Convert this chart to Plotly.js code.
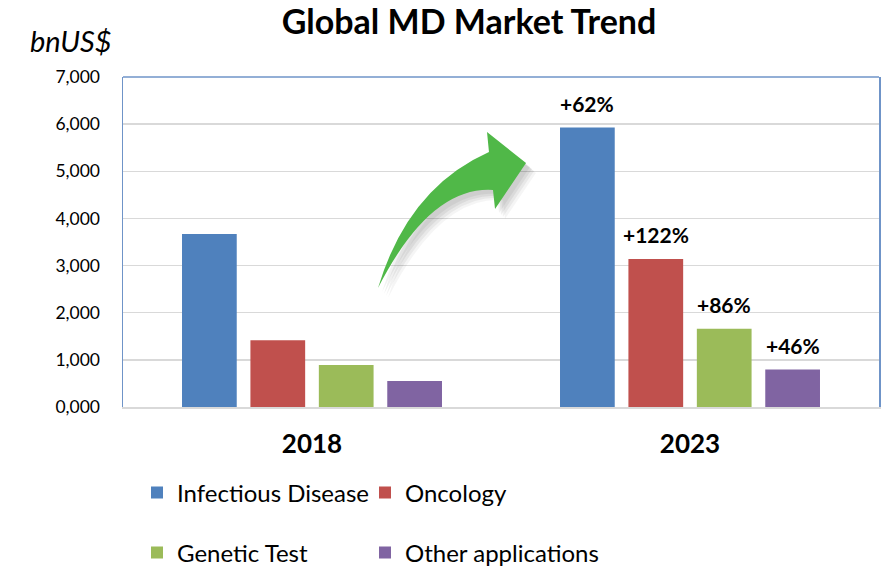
<!DOCTYPE html>
<html>
<head>
<meta charset="utf-8">
<script src="https://cdn.plot.ly/plotly-3.0.1.min.js"></script>
<style>html,body{margin:0;padding:0;background:#fff;}#chart{width:884px;height:573px;}</style>
</head>
<body>
<div id="chart"></div>
<script>
// ---- data ----
const years = ["2018", "2023"];
const seriesNames = ["Infectious Disease", "Oncology", "Genetic Test", "Other applications"];
const infectious = [3670, 5930];
const oncology = [1415, 3140];
const genetic = [890, 1660];
const other = [550, 795];
const growthLabels = ["+62%", "+122%", "+86%", "+46%"];
const yTickVals = [0, 1000, 2000, 3000, 4000, 5000, 6000, 7000];
const yTickText = ["0,000", "1,000", "2,000", "3,000", "4,000", "5,000", "6,000", "7,000"];

const colors = ["#4F81BD", "#C0504D", "#9BBB59", "#8064A2"];
const allSeries = [infectious, oncology, genetic, other];
const FONT = "Lato, 'Liberation Sans', Arial, sans-serif";

const BARGAP = 0.276, BARGROUPGAP = 0.2;
const legendIds = ["legend", "legend2", "legend3", "legend4"];

const traces = allSeries.map((vals, i) => ({
  type: "bar",
  name: seriesNames[i],
  x: years,
  y: vals,
  marker: { color: colors[i], line: { width: 0 } },
  legend: legendIds[i],
  hoverinfo: "x+y+name"
}));

// growth annotations above the 2023 bars (positioned via axis scales)
const step = (1 - BARGAP) / allSeries.length;
const annotations = allSeries.map((vals, i) => ({
  xref: "x", yref: "y",
  x: 1 + (i - (allSeries.length - 1) / 2) * step,
  y: vals[1],
  yshift: 24,
  yanchor: "middle",
  text: growthLabels[i],
  showarrow: false,
  font: { family: FONT, size: 21, color: "#000", weight: 700 }
}));

annotations.push({
  xref: "paper", yref: "paper",
  x: (71 - 123) / 756, y: (407 - 40) / 330,
  xanchor: "center", yanchor: "middle",
  text: "<i>bnUS$</i>", showarrow: false,
  font: { family: FONT, size: 29, color: "#000" }
});

// decorative curved arrow (pixel-based geometry converted to paper coords)
const L = 123, B = 407, W = 756, H = 330;
function P(x, y) { return ((x - L) / W).toFixed(4) + "," + ((B - y) / H).toFixed(4); }
function arrowPath(dx, dy) {
  const p = (x, y) => P(x + dx, y + dy);
  return "M" + p(378, 288) +
    " Q" + p(408, 188) + " " + p(489, 152) +
    " L" + p(487, 132) +
    " L" + p(526, 163) +
    " L" + p(495, 209) +
    " L" + p(493, 190) +
    " Q" + p(430, 186) + " " + p(378, 288) + " Z";
}
const shapes = [];
[[10, 10, 0.04], [8, 8, 0.05], [6, 6, 0.06], [4, 4, 0.05]].forEach(s => {
  shapes.push({ type: "path", xref: "paper", yref: "paper", path: arrowPath(s[0], s[1]),
    fillcolor: "rgba(0,0,0," + s[2] + ")", line: { width: 0 }, layer: "above" });
});
shapes.push({ type: "path", xref: "paper", yref: "paper", path: arrowPath(0, 0),
  fillcolor: "#50B848", line: { width: 0 }, layer: "above" });
// top border of plot area
shapes.push({ type: "line", xref: "paper", yref: "paper", x0: 0, x1: 1, y0: 1, y1: 1,
  line: { color: "#6F94C8", width: 1.5 } });

function legendAt(px, py) {
  return {
    xref: "container", yref: "container",
    x: px / 884, xanchor: "left",
    y: 1 - py / 573, yanchor: "middle",
    orientation: "h", itemwidth: 30,
    font: { family: FONT, size: 24, color: "#000" },
    bgcolor: "rgba(0,0,0,0)", borderwidth: 0
  };
}

const layout = {
  width: 884, height: 573,
  margin: { l: 123, r: 5, t: 77, b: 166, autoexpand: false },
  paper_bgcolor: "#fff", plot_bgcolor: "#fff",
  font: { family: FONT, color: "#000" },
  title: {
    text: "<b>Global MD Market Trend</b>",
    xref: "container", yref: "container",
    x: 469 / 884, y: 1 - 22 / 573, xanchor: "center", yanchor: "middle",
    font: { family: FONT, size: 34, color: "#000" }
  },
  barmode: "group",
  bargap: BARGAP,
  bargroupgap: BARGROUPGAP,
  xaxis: {
    type: "category",
    range: [-0.5, 1.5],
    showgrid: false,
    showline: true, linecolor: "#D9D9D9", linewidth: 1.5,
    ticks: "outside", ticklen: 13, tickcolor: "rgba(0,0,0,0)",
    tickfont: { family: FONT, size: 26, color: "#000", weight: 700 },
    fixedrange: true
  },
  yaxis: {
    range: [0, 7000],
    tickvals: yTickVals, ticktext: yTickText,
    showgrid: true, gridcolor: "#D9D9D9", gridwidth: 1.5,
    zeroline: false,
    showline: true, linecolor: "#6F94C8", linewidth: 1.5, mirror: true,
    ticks: "outside", ticklen: 18, tickcolor: "rgba(0,0,0,0)",
    tickfont: { family: FONT, size: 17.5, color: "#000" },
    fixedrange: true
  },
  showlegend: true,
  legend: legendAt(137, 493),
  legend2: legendAt(365, 493),
  legend3: legendAt(137, 553),
  legend4: legendAt(365, 553),
  annotations: annotations,
  shapes: shapes
};

Plotly.newPlot("chart", traces, layout, { displayModeBar: false, staticPlot: true });
</script>
</body>
</html>
